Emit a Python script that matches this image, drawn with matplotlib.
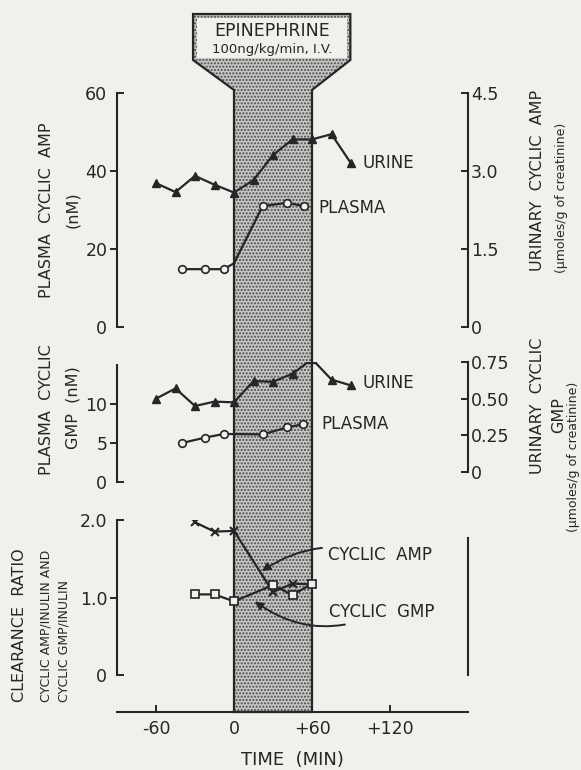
import matplotlib
matplotlib.use('Agg')
import matplotlib.pyplot as plt
from matplotlib.patches import Polygon, Rectangle

# ---------------- data ----------------
time_urine = [-60, -45, -30, -15, 0, 15, 30, 45, 60, 75, 90]
urine_camp = [2.76, 2.59, 2.90, 2.73, 2.58, 2.82, 3.30, 3.60, 3.60, 3.70, 3.14]
time_plasma_camp = [-40, -22, -8, 0, 22, 41, 54]
plasma_camp = [14.8, 14.8, 14.8, 16.3, 30.9, 31.8, 30.9]

urine_cgmp = [0.50, 0.57, 0.45, 0.48, 0.475, 0.62, 0.615, 0.67, 0.77, 0.63, 0.59]
time_plasma_cgmp = [-40, -22, -8, 0, 22, 41, 53]
plasma_cgmp = [5.0, 5.7, 6.15, 6.15, 6.1, 7.0, 7.4]

time_clear = [-30, -15, 0, 30, 45, 60]
clear_amp = [1.97, 1.85, 1.86, 1.07, 1.18, 1.17]
clear_gmp = [1.04, 1.04, 0.95, 1.16, 1.03, 1.18]

infusion = [0, 60]
x_ticks = [-60, 0, 60, 120]
x_tick_labels = ['-60', '0', '+60', '+120']

# ---------------- styling ----------------
W, H, DPI = 581, 770, 100
INK = '#262626'
PAPER = '#f1f0ec'
plt.rcParams['font.family'] = ['DejaVu Sans']
plt.rcParams['hatch.linewidth'] = 1.0

fig = plt.figure(figsize=(W / DPI, H / DPI), dpi=DPI, facecolor=PAPER)

def fx(px):
    return px / W

def fy(py):
    return 1 - py / H

X0, X1 = 117, 468          # pixel extent of the time axis
XMIN, XMAX = -90, 180      # minutes

def make_axes(ytop, ybot):
    return fig.add_axes([fx(X0), fy(ybot), fx(X1) - fx(X0), (ybot - ytop) / H])

# ------------- background: infusion band with funnel -------------
axbg = make_axes(0, 712)
axbg.set_xlim(XMIN, XMAX)
axbg.set_ylim(712, 0)
axbg.axis('off')
axbg.set_zorder(0)
a, b = infusion
outline = [(a, 712), (a, 90), (-31.5, 60), (-31.5, 14), (89.5, 14), (89.5, 60), (b, 90), (b, 712)]
axbg.add_patch(Polygon(outline, closed=True, facecolor='#c6c6c4', hatch='.....',
                       edgecolor='#4a4a4a', lw=0, clip_on=False))
axbg.add_patch(Polygon(outline, closed=True, facecolor='none', edgecolor=INK,
                       lw=1.6, clip_on=False))
axbg.add_patch(Rectangle((-28.8, 17.5), 115.6, 40.5, facecolor=PAPER, edgecolor='none',
                         clip_on=False))
axbg.text(29, 31, 'EPINEPHRINE', ha='center', va='center', fontsize=12.5, color=INK)
axbg.text(29, 50, '100ng/kg/min, I.V.', ha='center', va='center', fontsize=9.5, color=INK)

def style_common(ax):
    ax.set_xlim(XMIN, XMAX)
    ax.patch.set_alpha(0)
    for s in ['top', 'bottom', 'left', 'right']:
        ax.spines[s].set_visible(False)
    ax.set_zorder(2)

def set_left(ax, bounds, major, major_lab, minor, minor_lab):
    ax.spines['left'].set_visible(True)
    ax.spines['left'].set_bounds(*bounds)
    ax.spines['left'].set_color(INK)
    ax.spines['left'].set_linewidth(1.5)
    ax.set_yticks(major, labels=major_lab)
    ax.set_yticks(minor, labels=minor_lab, minor=True)
    ax.tick_params(axis='y', which='major', direction='out', length=5, width=1.4,
                   labelsize=12.5, colors=INK, pad=2)
    ax.tick_params(axis='y', which='minor', direction='in', length=5, width=1.4,
                   labelsize=12.5, colors=INK, pad=7)

def set_right(ax, bounds, ticks, labels):
    ax.spines['right'].set_visible(True)
    ax.spines['right'].set_bounds(*bounds)
    ax.spines['right'].set_color(INK)
    ax.spines['right'].set_linewidth(1.5)
    ax.set_yticks(ticks, labels=labels)
    ax.tick_params(axis='y', which='both', direction='in', length=5, width=1.4,
                   labelsize=12.5, colors=INK, pad=2, left=False, labelleft=False,
                   right=True, labelright=True)

line_kw = dict(color=INK, lw=1.6, zorder=3)
tri_kw = dict(marker='^', ms=5.5, mfc=INK, mec=INK)
circ_kw = dict(marker='o', ms=5.5, mfc=PAPER, mec=INK, mew=1.2)

# ------------- top panel: cyclic AMP -------------
ax1 = make_axes(92.5, 327)
style_common(ax1)
ax1.set_ylim(0, 60)
ax1.xaxis.set_visible(False)
set_left(ax1, (0, 60), [20, 40], ['20', '40'], [0, 60], ['0', '60'])
ax1r = ax1.twinx()
style_common(ax1r)
ax1r.set_ylim(0, 4.5)
set_right(ax1r, (0, 4.5), [0, 1.5, 3.0, 4.5], ['0', '1.5', '3.0', '4.5'])
ax1r.xaxis.set_visible(False)

ax1r.plot(time_urine, urine_camp, **tri_kw, **line_kw)
ax1.plot(time_plasma_camp, plasma_camp, markevery=[0, 1, 2, 4, 5, 6], **circ_kw, **line_kw)
ax1r.text(98.5, 3.15, 'URINE', fontsize=12, color=INK, va='center', ha='left')
ax1.text(65, 30.5, 'PLASMA', fontsize=12, color=INK, va='center', ha='left')

# ------------- middle panel: cyclic GMP -------------
ax2 = make_axes(362, 482)
style_common(ax2)
ax2.set_ylim(0, 15.38)
ax2.xaxis.set_visible(False)
set_left(ax2, (0, 15), [5, 10], ['5', '10'], [0], ['0'])
ax2r = ax2.twinx()
style_common(ax2r)
ax2r.set_ylim(-0.068, 0.75)
set_right(ax2r, (0, 0.75), [0, 0.25, 0.5, 0.75], ['0', '0.25', '0.50', '0.75'])
ax2r.xaxis.set_visible(False)

ax2r.plot(time_urine, urine_cgmp, **tri_kw, **line_kw)
ax2.plot(time_plasma_cgmp, plasma_cgmp, markevery=[0, 1, 2, 4, 5, 6], **circ_kw, **line_kw)
ax2r.text(98.5, 0.61, 'URINE', fontsize=12, color=INK, va='center', ha='left')
ax2.text(67, 7.4, 'PLASMA', fontsize=12, color=INK, va='center', ha='left')

# ------------- bottom panel: clearance ratio -------------
ax3 = make_axes(520, 712)
style_common(ax3)
ax3.set_ylim(-0.477, 2.0)
set_left(ax3, (0, 2.0), [1.0], ['1.0'], [0, 2.0], ['0', '2.0'])
ax3.spines['right'].set_visible(True)
ax3.spines['right'].set_bounds(0, 1.77)
ax3.spines['right'].set_color(INK)
ax3.spines['right'].set_linewidth(1.5)
ax3.spines['bottom'].set_visible(True)
ax3.spines['bottom'].set_color(INK)
ax3.spines['bottom'].set_linewidth(1.5)
ax3.set_xticks(x_ticks, labels=x_tick_labels)
ax3.tick_params(axis='x', direction='in', length=5, width=1.4, labelsize=12.5,
                colors=INK, pad=6)

ax3.plot(time_clear, clear_amp, marker='x', ms=5.5, mew=1.5, mec=INK, **line_kw)
ax3.plot(time_clear, clear_gmp, marker='s', ms=5.5, mfc=PAPER, mec=INK, mew=1.2, **line_kw)

ax3.annotate('CYCLIC  AMP', xy=(21.5, 1.34), xytext=(72, 1.55), fontsize=12, color=INK,
             va='center', ha='left',
             arrowprops=dict(arrowstyle='-|>', color=INK, lw=1.4, mutation_scale=12,
                             shrinkA=2, shrinkB=0, connectionstyle='arc3,rad=0.25'))
ax3.annotate('CYCLIC  GMP', xy=(16, 0.95), xytext=(73, 0.81), fontsize=12, color=INK,
             va='center', ha='left',
             arrowprops=dict(arrowstyle='-|>', color=INK, lw=1.4, mutation_scale=12,
                             shrinkA=2, shrinkB=0, connectionstyle='arc3,rad=-0.3'))

fig.text(fx(292), fy(760), 'TIME  (MIN)', ha='center', va='center', fontsize=13, color=INK)

# ------------- axis labels -------------
def vlabel(x, y, s, size=11, va='center'):
    fig.text(fx(x), fy(y), s, rotation=90, ha='center', va=va, fontsize=size, color=INK)

vlabel(47, 210, 'PLASMA  CYCLIC  AMP', 11.5)
vlabel(73, 210, '(nM)', 11.5)
vlabel(47, 410, 'PLASMA  CYCLIC', 11.5)
vlabel(73, 408, 'GMP  (nM)', 11.5)
vlabel(20, 702, 'CLEARANCE  RATIO', 11.5, va='bottom')
vlabel(46, 702, 'CYCLIC AMP/INULIN AND', 9, va='bottom')
vlabel(64, 702, 'CYCLIC GMP/INULIN', 9, va='bottom')

vlabel(537, 180, 'URINARY  CYCLIC  AMP', 11.5)
vlabel(561, 198, '(\u00b5moles/g of creatinine)', 9)
vlabel(537, 406, 'URINARY  CYCLIC', 11.5)
vlabel(559, 415, 'GMP', 11.5)
vlabel(573, 457, '(\u00b5moles/g of creatinine)', 9)

fig.savefig('out.png', dpi=DPI, facecolor=PAPER)
